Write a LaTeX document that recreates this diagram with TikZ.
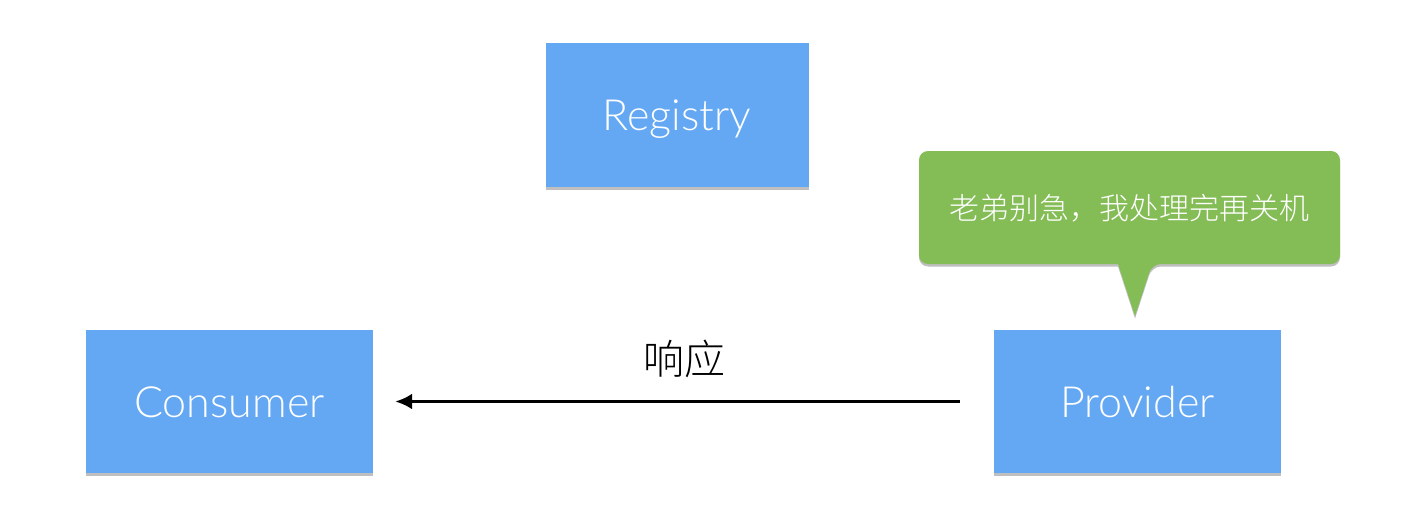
\documentclass[tikz,border=0pt]{standalone}
\usepackage{fontspec}
\setmainfont{Lato}[UprightFont=* Light]
\newfontfamily\cjk{Noto Sans CJK SC}[UprightFont=* Light]
\usetikzlibrary{shadows,arrows.meta}
\definecolor{boxblue}{HTML}{64A8F4}
\definecolor{calloutgreen}{HTML}{84BC56}
\begin{document}
\begin{tikzpicture}[x=1pt,y=-1pt,
  softshadow/.style={drop shadow={shadow xshift=0pt, shadow yshift=-2.5pt, opacity=0.25, fill=black}},
  box/.style={fill=boxblue, draw=none, minimum width=287pt, minimum height=143pt,
    text=white, font=\fontsize{43}{50}\selectfont, inner sep=0pt,
    text height=31pt, text depth=0pt, softshadow},
  flow/.style={-{Latex[length=17pt,width=16pt]}, line width=3pt, black},
]
\useasboundingbox (0,0) rectangle (1418,532);
\node[box, minimum width=263pt, minimum height=144pt] (registry) at (677,115) {Registry};
\node[box] (consumer) at (229.5,401.5) {Consumer};
\node[box] (provider) at (1137.5,401.5) {Provider};
% callout bubble
\path[fill=calloutgreen, softshadow] (1135,316) -- (1118,264) [rounded corners=9pt] -- (919,264) -- (919,151) -- (1340,151) -- (1340,264) -- (1152,264) [sharp corners] -- cycle;
\node[text=white, font=\cjk\fontsize{30}{36}\selectfont] (note) at (1129.5,208) {老弟别急，我处理完再关机};
% response arrow
\draw[flow, shorten <=34pt, shorten >=22pt] (provider.west) -- (consumer.east);
\node[font=\cjk\fontsize{41}{48}\selectfont] (resp) at (684,359) {响应};
\end{tikzpicture}
\end{document}
